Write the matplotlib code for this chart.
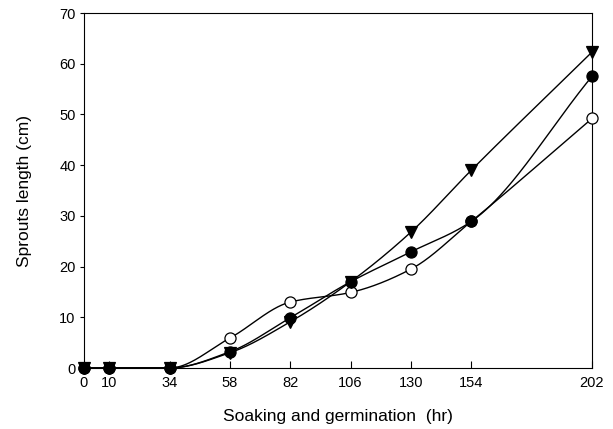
import numpy as np
import matplotlib.pyplot as plt

plt.rcParams.update({'font.family': ['Liberation Sans', 'DejaVu Sans'], 'font.size': 10.5})

hours = [0, 10, 34, 58, 82, 106, 130, 154, 202]
filled_circle = [0, 0, 0, 3.2, 9.9, 17.0, 22.9, 28.9, 57.5]
open_circle = [0, 0, 0, 5.9, 13.0, 14.9, 19.5, 28.9, 49.2]
triangle = [0, 0, 0, 3.0, 9.1, 17.0, 26.8, 39.0, 62.3]


def pchip(x, y, xs):
    # monotone cubic curve through the points (Fritsch-Carlson)
    x = np.asarray(x, float)
    y = np.asarray(y, float)
    h = np.diff(x)
    d = np.diff(y) / h
    m = np.zeros_like(y)
    for k in range(1, len(x) - 1):
        if d[k - 1] * d[k] > 0:
            w1 = 2 * h[k] + h[k - 1]
            w2 = h[k] + 2 * h[k - 1]
            m[k] = (w1 + w2) / (w1 / d[k - 1] + w2 / d[k])
    m[0] = d[0]
    m[-1] = d[-1]
    idx = np.clip(np.searchsorted(x, xs) - 1, 0, len(x) - 2)
    t = (xs - x[idx]) / h[idx]
    h00 = 2 * t**3 - 3 * t**2 + 1
    h10 = t**3 - 2 * t**2 + t
    h01 = -2 * t**3 + 3 * t**2
    h11 = t**3 - t**2
    return h00 * y[idx] + h10 * h[idx] * m[idx] + h01 * y[idx + 1] + h11 * h[idx] * m[idx + 1]


fig = plt.figure(figsize=(6.13, 4.29), dpi=100)
ax = fig.add_axes([84 / 613, 1 - 368 / 429, 508 / 613, 355 / 429])

xs = np.linspace(0, 202, 800)
series = [(open_circle, 'o', 'white'), (triangle, 'v', 'black'), (filled_circle, 'o', 'black')]
for vals, mk, fc in series:
    ax.plot(xs, pchip(hours, vals, xs), color='black', lw=1.0, clip_on=False)
    ax.plot(hours, vals, ls='none', marker=mk, ms=8, mfc=fc, mec='black', mew=0.9, clip_on=False, zorder=3)

ax.set_xlim(0, 202)
ax.set_ylim(0, 70)
ax.set_xticks(hours)
ax.set_yticks(range(0, 71, 10))
ax.tick_params(axis='x', direction='in', length=5, pad=6)
ax.tick_params(axis='y', direction='out', length=3, pad=3)
ax.set_xlabel('Soaking and germination  (hr)', fontsize=12.5)
ax.set_ylabel('Sprouts length (cm)', fontsize=12.5)
ax.xaxis.set_label_coords(0.5, -0.115)
ax.yaxis.set_label_coords(-0.102, 0.5)

fig.savefig('out.png', dpi=100)
